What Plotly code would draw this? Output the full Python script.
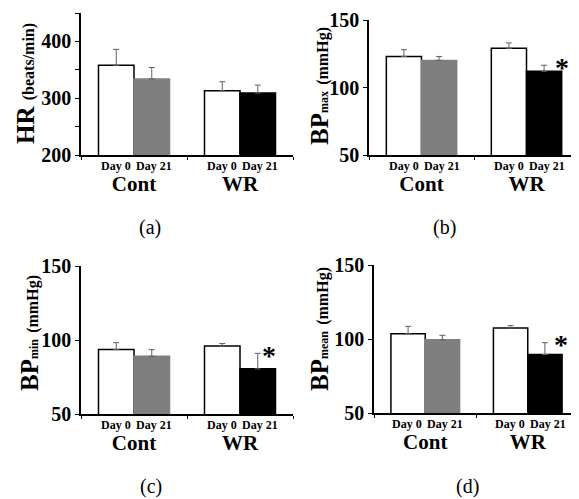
import plotly.graph_objects as go

# the page adds an 8px body margin, so the figure is sized to the window minus it
OFF = 8
W, H = 579 - OFF, 499 - OFF

groups = ["Cont", "WR"]
days = ["Day 0", "Day 21"]

hr_day0 = [358, 313]
hr_day0_err = [28, 16]
hr_day21 = [334, 309]
hr_day21_err = [20, 14]

bpmax_day0 = [123, 129]
bpmax_day0_err = [5, 4]
bpmax_day21 = [120, 112]
bpmax_day21_err = [3, 4.5]

bpmin_day0 = [93.5, 96]
bpmin_day0_err = [4.7, 1.6]
bpmin_day21 = [89, 80.5]
bpmin_day21_err = [4.5, 10.5]

bpmean_day0 = [103.5, 107.5]
bpmean_day0_err = [5, 1.5]
bpmean_day21 = [99.5, 89.5]
bpmean_day21_err = [3, 8]

sig_hr = [False, False]
sig_bpmax = [False, True]
sig_bpmin = [False, True]
sig_bpmean = [False, True]

hr_ticks = [200, 250, 300, 350, 400, 450]
hr_ticktext = ["200", "", "300", "", "400", ""]
bp_ticks = [50, 100, 150]
bp_ticktext = ["50", "100", "150"]

panel_labels = ["(a)", "(b)", "(c)", "(d)"]
y_titles = [
    "HR <span style='font-size:16px'>(beats/min)</span>",
    "BP<span style='font-size:12px'>max</span> <span style='font-size:16px'>(mmHg)</span>",
    "BP<span style='font-size:12px'>min</span> <span style='font-size:16px'>(mmHg)</span>",
    "BP<span style='font-size:12px'>mean</span> <span style='font-size:16px'>(mmHg)</span>",
]

FONT = "Liberation Serif"
day21_colors = ["#7f7f7f", "#000000"]

# layout geometry (pixels in the window)
panels = [
    dict(d0=hr_day0, e0=hr_day0_err, d21=hr_day21, e21=hr_day21_err, sig=sig_hr,
         yr=[200, 450], tv=hr_ticks, tt=hr_ticktext, star_dx=31,
         xpx=(81, 293), ypx=(13, 155), title_xy=(25, 84), lab_xy=(150, 227)),
    dict(d0=bpmax_day0, e0=bpmax_day0_err, d21=bpmax_day21, e21=bpmax_day21_err, sig=sig_bpmax,
         yr=[50, 150], tv=bp_ticks, tt=bp_ticktext, star_dx=35,
         xpx=(369, 579), ypx=(20, 155), title_xy=(320, 86), lab_xy=(444, 227)),
    dict(d0=bpmin_day0, e0=bpmin_day0_err, d21=bpmin_day21, e21=bpmin_day21_err, sig=sig_bpmin,
         yr=[50, 150], tv=bp_ticks, tt=bp_ticktext, star_dx=29,
         xpx=(81, 293), ypx=(266, 414), title_xy=(29, 333), lab_xy=(151, 486)),
    dict(d0=bpmean_day0, e0=bpmean_day0_err, d21=bpmean_day21, e21=bpmean_day21_err, sig=sig_bpmean,
         yr=[50, 150], tv=bp_ticks, tt=bp_ticktext, star_dx=33,
         xpx=(374, 579), ypx=(265, 413), title_xy=(319, 329), lab_xy=(467, 486)),
]


def fx(px):
    return (px - OFF) / W


def fy(py):
    return 1 - (py - OFF) / H


fig = go.Figure()
annotations = []
layout = {}

for i, p in enumerate(panels):
    n = "" if i == 0 else str(i + 1)
    xa, ya = "x" + n, "y" + n
    err_style = dict(type="data", symmetric=False, color="#606060", thickness=1, width=3)
    fig.add_trace(go.Bar(
        x=groups, y=p["d0"], xaxis=xa, yaxis=ya, name=days[0], showlegend=False,
        marker=dict(color="white", line=dict(color="black", width=1.5)),
        error_y=dict(array=p["e0"], arrayminus=[0] * len(groups), **err_style),
    ))
    fig.add_trace(go.Bar(
        x=groups, y=p["d21"], xaxis=xa, yaxis=ya, name=days[1], showlegend=False,
        marker=dict(color=day21_colors, line=dict(color=day21_colors, width=1.5)),
        error_y=dict(array=p["e21"], arrayminus=[0] * len(groups), **err_style),
    ))
    x0, x1 = p["xpx"]
    y0, y1 = p["ypx"]
    layout["xaxis" + n] = dict(
        domain=[fx(x0), min(1, fx(x1))], anchor=ya, type="category", range=[-0.5, 1.5],
        showline=True, linecolor="black", linewidth=1.5, mirror=False,
        ticks="outside", ticklen=3, tickcolor="black", tickson="boundaries",
        tickfont=dict(family=FONT, size=21, color="black", weight="bold"),
        ticklabelstandoff=9, showgrid=False, zeroline=False, fixedrange=True,
        automargin=False, ticklabeloverflow="allow",
    )
    layout["yaxis" + n] = dict(
        domain=[fy(y1), fy(y0)], anchor=xa, range=p["yr"],
        tickvals=p["tv"], ticktext=p["tt"],
        showline=True, linecolor="black", linewidth=1.5,
        ticks="outside", ticklen=4, tickcolor="black",
        tickfont=dict(family=FONT, size=20, color="black", weight="bold"),
        showgrid=False, zeroline=False, fixedrange=True, automargin=False,
        ticklabeloverflow="allow",
    )
    # day labels under each bar
    for g in groups:
        for k, d in enumerate(days):
            annotations.append(dict(
                x=g, y=p["yr"][0], xref=xa, yref=ya, text=d, showarrow=False,
                xshift=-18 if k == 0 else 20, yshift=-11,
                yanchor="middle", xanchor="center",
                font=dict(family=FONT, size=12, color="black", weight="bold"),
            ))
    # significance asterisks
    for g, s, v, e in zip(groups, p["sig"], p["d21"], p["e21"]):
        if s:
            annotations.append(dict(
                x=g, y=v + e, xref=xa, yref=ya, text="*", showarrow=False,
                xshift=p["star_dx"], yshift=-2, yanchor="middle", xanchor="center",
                font=dict(family=FONT, size=28, color="black", weight="bold"),
            ))
    tx, ty = p["title_xy"]
    annotations.append(dict(
        x=fx(tx), y=fy(ty), xref="paper", yref="paper", text=y_titles[i],
        textangle=-90, showarrow=False, xanchor="center", yanchor="middle",
        font=dict(family=FONT, size=25, color="black", weight="bold"),
    ))
    lx, ly = p["lab_xy"]
    annotations.append(dict(
        x=fx(lx), y=fy(ly), xref="paper", yref="paper", text=panel_labels[i],
        showarrow=False, xanchor="center", yanchor="middle",
        font=dict(family=FONT, size=20, color="black"),
    ))

fig.update_layout(
    width=W, height=H, margin=dict(l=0, r=0, t=0, b=0, autoexpand=False),
    paper_bgcolor="white", plot_bgcolor="white",
    barmode="group", bargap=0.33, bargroupgap=0,
    annotations=annotations, showlegend=False,
    **layout,
)

fig.write_html("out.html")
